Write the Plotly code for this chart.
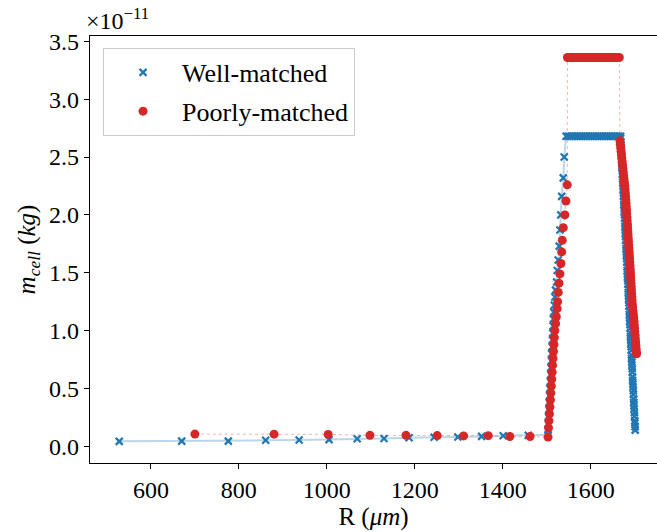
import plotly.graph_objects as go

# Well-matched cells: radius R (um) and cell mass (units of 1e-11 kg)
well_R = [528, 670, 776, 861, 937, 1005, 1069, 1130, 1187, 1244, 1298, 1352, 1401, 1458, 1503,
          1503, 1503.5, 1504, 1505, 1505.5, 1506.5, 1507, 1508, 1509, 1509.5, 1510.5, 1511, 1512, 1513,
          1513.5, 1514.5, 1515, 1516, 1517, 1518.5, 1520, 1522.5, 1524, 1526, 1528.5, 1530, 1532, 1534,
          1537.6, 1539.8,
          1544, 1548, 1552, 1556, 1560, 1564, 1568, 1572, 1576, 1580, 1584, 1588, 1592, 1596, 1600, 1604,
          1608, 1612, 1616, 1620, 1624, 1628, 1632, 1636, 1640, 1644, 1648, 1652, 1656, 1660, 1664, 1668,
          1668.0, 1668.6, 1668.7, 1669.4, 1669.5, 1670.2, 1670.4, 1671.0, 1671.1, 1671.9, 1672.0, 1672.7,
          1672.8, 1673.5, 1673.6, 1674.4, 1674.5, 1675.2, 1675.3, 1676.0, 1676.1, 1676.9, 1677.0, 1677.7,
          1677.8, 1678.5, 1678.6, 1679.4, 1679.5, 1680.2, 1680.3, 1681.0, 1681.1, 1681.9, 1682.0, 1682.7,
          1682.8, 1683.5, 1683.6, 1684.4, 1684.5, 1685.2, 1685.3, 1686.0, 1686.1, 1686.9, 1687.0, 1687.7,
          1687.8, 1688.5, 1688.6, 1689.4, 1689.5, 1690.2, 1690.3, 1691.0, 1691.1, 1691.9, 1692.0, 1692.7,
          1692.8, 1693.5, 1693.6, 1694.4, 1694.5, 1695.2, 1695.3, 1696.0, 1696.1, 1696.9, 1697.0, 1697.7,
          1697.8, 1698.5, 1698.6, 1699.4, 1699.5, 1700.2, 1700.3, 1701.0, 1701.1]
well_m = [0.043, 0.045, 0.045, 0.052, 0.055, 0.058, 0.066, 0.068, 0.075, 0.078, 0.080, 0.086, 0.092, 0.095, 0.10,
          0.14, 0.20, 0.26, 0.32, 0.38, 0.44, 0.50, 0.56, 0.62, 0.68, 0.74, 0.80, 0.86, 0.92,
          0.98, 1.04, 1.10, 1.16, 1.22, 1.29, 1.35, 1.42, 1.52, 1.61, 1.73, 1.87, 2.00, 2.16,
          2.32, 2.50,
          2.68, 2.68, 2.68, 2.68, 2.68, 2.68, 2.68, 2.68, 2.68, 2.68, 2.68, 2.68, 2.68, 2.68, 2.68, 2.68,
          2.68, 2.68, 2.68, 2.68, 2.68, 2.68, 2.68, 2.68, 2.68, 2.68, 2.68, 2.68, 2.68, 2.68, 2.68, 2.68,
          2.66, 2.63, 2.60, 2.57, 2.54, 2.51, 2.47, 2.44, 2.41, 2.38, 2.35, 2.31,
          2.28, 2.25, 2.22, 2.19, 2.16, 2.12, 2.09, 2.06, 2.03, 2.00, 1.97, 1.93,
          1.90, 1.87, 1.84, 1.81, 1.78, 1.74, 1.71, 1.68, 1.65, 1.62, 1.59, 1.55,
          1.52, 1.49, 1.46, 1.43, 1.40, 1.36, 1.33, 1.30, 1.27, 1.24, 1.21, 1.17,
          1.14, 1.11, 1.08, 1.05, 1.02, 0.98, 0.95, 0.92, 0.89, 0.86, 0.83, 0.79,
          0.76, 0.73, 0.70, 0.67, 0.64, 0.60, 0.57, 0.54, 0.51, 0.48, 0.45, 0.41,
          0.38, 0.35, 0.32, 0.29, 0.26, 0.22, 0.20, 0.17, 0.14]

# Poorly-matched cells
poor_R = [700, 880, 1003, 1098, 1180, 1251, 1311, 1367, 1416, 1462, 1503,
          1504, 1505, 1506.2, 1507.3, 1508.3, 1509.3, 1510.3, 1511.3, 1512.3, 1513.3, 1514.3, 1515.3,
          1516.3, 1517.3, 1518.4, 1520.2, 1521.8, 1523.8, 1524.7, 1526.3, 1528, 1530, 1532.3, 1534,
          1535.3, 1537.6, 1541.3, 1543.6, 1546.7,
          1547, 1551, 1555, 1559, 1563, 1567, 1571, 1575, 1579, 1583, 1587, 1591, 1595, 1599, 1603,
          1607, 1611, 1615, 1619, 1623, 1627, 1631, 1635, 1639, 1643, 1647, 1651, 1655, 1659, 1665,
          1666.5, 1667.3, 1668.2, 1669.0, 1669.9, 1670.7, 1671.5, 1672.4, 1673.2, 1674.1, 1674.9, 1675.7,
          1676.6, 1677.5, 1678.1, 1678.7, 1679.2, 1679.8, 1680.3, 1680.8, 1681.3, 1681.8, 1682.3, 1682.8,
          1683.4, 1683.9, 1684.4, 1684.9, 1685.4, 1685.9, 1686.4, 1686.9, 1687.4, 1687.9, 1688.4, 1688.8,
          1689.3, 1689.8, 1690.3, 1690.7, 1691.2, 1691.7, 1692.2, 1692.6, 1693.1, 1693.5, 1694.0, 1694.6,
          1695.4, 1696.2, 1697.0, 1697.8, 1698.5, 1699.1, 1699.7, 1700.3, 1700.9, 1701.5, 1702.1, 1702.7,
          1703.4, 1704.0, 1704.3]
poor_m = [0.106, 0.105, 0.103, 0.095, 0.095, 0.093, 0.090, 0.092, 0.085, 0.085, 0.080,
          0.16, 0.22, 0.28, 0.34, 0.40, 0.46, 0.52, 0.58, 0.64, 0.70, 0.76, 0.82,
          0.88, 0.94, 1.00, 1.06, 1.12, 1.19, 1.25, 1.33, 1.41, 1.49, 1.58, 1.68,
          1.78, 1.89, 2.00, 2.12, 2.26,
          3.36, 3.36, 3.36, 3.36, 3.36, 3.36, 3.36, 3.36, 3.36, 3.36, 3.36, 3.36, 3.36, 3.36, 3.36,
          3.36, 3.36, 3.36, 3.36, 3.36, 3.36, 3.36, 3.36, 3.36, 3.36, 3.36, 3.36, 3.36, 3.36, 3.36,
          2.64, 2.61, 2.58, 2.55, 2.52, 2.49, 2.46, 2.43, 2.40, 2.37, 2.34, 2.31,
          2.28, 2.25, 2.22, 2.19, 2.16, 2.13, 2.10, 2.07, 2.04, 2.01, 1.98, 1.95,
          1.92, 1.89, 1.86, 1.83, 1.80, 1.77, 1.74, 1.71, 1.68, 1.65, 1.62, 1.59,
          1.56, 1.53, 1.50, 1.47, 1.44, 1.41, 1.38, 1.35, 1.32, 1.29, 1.26, 1.23,
          1.20, 1.17, 1.14, 1.11, 1.08, 1.05, 1.02, 0.99, 0.96, 0.93, 0.90, 0.87,
          0.84, 0.81, 0.80]

x_ticks = [600, 800, 1000, 1200, 1400, 1600]
y_ticks = [0.0, 0.5, 1.0, 1.5, 2.0, 2.5, 3.0, 3.5]

BLUE = "#1f77b4"
RED = "#d62728"
FONT = "'Liberation Serif', 'Times New Roman', 'DejaVu Serif', serif"
FS = 24

fig = go.Figure()
fig.add_trace(go.Scatter(x=well_R, y=well_m, mode="lines",
                         line=dict(color="rgba(31,119,180,0.3)", width=2),
                         showlegend=False, hoverinfo="skip"))
fig.add_trace(go.Scatter(x=poor_R, y=poor_m, mode="lines",
                         line=dict(color="rgba(214,39,40,0.35)", width=1, dash="dot"),
                         showlegend=False, hoverinfo="skip"))
fig.add_trace(go.Scatter(x=well_R, y=well_m, mode="markers", name="Well-matched",
                         legendgroup="a",
                         marker=dict(symbol="x-thin", size=7, color=BLUE,
                                     line=dict(width=2.2, color=BLUE))))
fig.add_trace(go.Scatter(x=poor_R, y=poor_m, mode="markers", name="Poorly-matched",
                         legendgroup="b",
                         marker=dict(symbol="circle", size=9, color=RED,
                                     line=dict(width=0))))

fig.update_layout(
    width=657, height=532,
    margin=dict(l=90, r=0, t=36, b=69),
    paper_bgcolor="white", plot_bgcolor="white",
    font=dict(family=FONT, size=FS, color="black"),
    showlegend=True,
    legend=dict(x=0.023, y=0.972, xanchor="left", yanchor="top",
                bgcolor="white", bordercolor="#cccccc", borderwidth=1,
                font=dict(family=FONT, size=26), tracegroupgap=2,
                itemwidth=68),
    xaxis=dict(range=[461.5, 1750.7], tickvals=x_ticks, ticktext=[str(v) for v in x_ticks],
               showgrid=False, zeroline=False, showline=True, linecolor="black", linewidth=1.2,
               mirror=True, ticks="outside", ticklen=5, tickcolor="black",
               tickfont=dict(family=FONT, size=FS),
               title=dict(text="R (<i>μm</i>)", font=dict(family=FONT, size=25), standoff=5)),
    yaxis=dict(range=[-0.144, 3.546], tickvals=y_ticks, ticktext=[f"{v:.1f}" for v in y_ticks],
               showgrid=False, zeroline=False, showline=True, linecolor="black", linewidth=1.2,
               ticks="outside", ticklen=5, tickcolor="black",
               tickfont=dict(family=FONT, size=FS),
               title=dict(text="<i>m</i><sub><i>cell</i></sub> (<i>kg</i>)",
                          font=dict(family=FONT, size=25), standoff=6)),
    annotations=[dict(text="×10<sup>−11</sup>", xref="paper", yref="paper",
                      x=-0.01, y=1.0, xanchor="left", yanchor="bottom",
                      showarrow=False, font=dict(family=FONT, size=FS))],
)

fig.write_html("out.html")
